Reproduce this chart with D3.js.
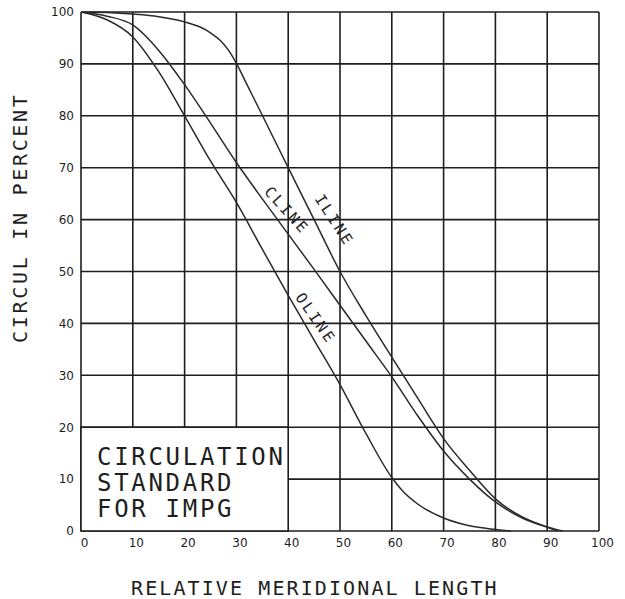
<!DOCTYPE html>
<html>
<head>
<meta charset="utf-8">
<script src="https://cdn.jsdelivr.net/npm/d3@7"></script>
<style>
  html, body { margin: 0; padding: 0; background: #fff; }
  svg { display: block; }
</style>
</head>
<body>
<svg id="chart" width="625" height="599"></svg>
<script>
// ---- data ----
const xTicks = [0, 10, 20, 30, 40, 50, 60, 70, 80, 90, 100];
const yTicks = [0, 10, 20, 30, 40, 50, 60, 70, 80, 90, 100];

const ilineX = [0, 5, 10, 15, 20, 23, 25, 27, 28.5, 30, 32, 35, 40, 45, 50, 55, 60, 65, 70, 75, 80, 85, 90, 93];
const ilineY = [100, 99.9, 99.6, 99.1, 98.1, 97.1, 96.0, 94.4, 92.6, 90.1, 86.1, 80.1, 70, 60, 50, 41.5, 33.5, 25.6, 17.8, 11.7, 6.2, 2.8, 0.8, 0];

const clineX = [0, 5, 10, 15, 20, 25, 30, 35, 40, 45, 50, 55, 60, 65, 70, 75, 80, 85, 90, 92];
const clineY = [100, 99.2, 97.5, 92.6, 86, 78.6, 71, 64, 57.2, 50.4, 43.5, 36.6, 29.7, 22.2, 15.4, 10, 5.6, 2.6, 0.7, 0];

const olineX = [0, 5, 10, 15, 20, 25, 30, 35, 40, 45, 50, 55, 60, 62, 65, 70, 75, 80, 83];
const olineY = [100, 98.5, 95.2, 88.5, 80, 71.3, 63.3, 54.3, 45.4, 36.8, 28.2, 18.8, 10.3, 7.8, 5.2, 2.5, 1.0, 0.3, 0];

const curveNames = ["ILINE", "CLINE", "OLINE"];
const labelX = [48.8, 39.6, 45.2];
const labelY = [60.1, 62.0, 41.2];
const labelAngle = [57, 48, 55];

const boxLines = ["CIRCULATION", "STANDARD", "FOR IMPG"];
const xTitle = "RELATIVE MERIDIONAL LENGTH";
const yTitle = "CIRCUL IN PERCENT";

// ---- drawing ----
const svg = d3.select("#chart");
const x = d3.scaleLinear().domain([0, 100]).range([81, 599]);
const y = d3.scaleLinear().domain([0, 100]).range([531, 12]);

const ink = "#1e1e1e";
const mono = "'DejaVu Sans Mono', monospace";

// grid
const grid = svg.append("g").attr("stroke", ink).attr("stroke-width", 1.6);
grid.selectAll("line.v").data(xTicks).join("line")
  .attr("x1", d => x(d)).attr("x2", d => x(d))
  .attr("y1", y(0)).attr("y2", y(100));
grid.selectAll("line.h").data(yTicks).join("line")
  .attr("x1", x(0)).attr("x2", x(100))
  .attr("y1", d => y(d)).attr("y2", d => y(d));

// curves
const series = [
  { xs: ilineX, ys: ilineY },
  { xs: clineX, ys: clineY },
  { xs: olineX, ys: olineY }
];
const line = d3.line()
  .x(d => x(d[0])).y(d => y(d[1]))
  .curve(d3.curveMonotoneX);
svg.append("g").selectAll("path").data(series).join("path")
  .attr("d", s => line(s.xs.map((v, i) => [v, s.ys[i]])))
  .attr("fill", "none")
  .attr("stroke", "#2a2a2a")
  .attr("stroke-width", 1.5);

// curve labels
svg.append("g").selectAll("text").data(curveNames).join("text")
  .attr("transform", (d, i) => `translate(${x(labelX[i])},${y(labelY[i])}) rotate(${labelAngle[i]})`)
  .attr("text-anchor", "middle")
  .attr("dy", "0.36em")
  .attr("dx", 1.3)
  .attr("font-family", mono)
  .attr("font-size", 15)
  .attr("letter-spacing", 2.6)
  .attr("fill", ink)
  .text(d => d);

// legend box
svg.append("rect")
  .attr("x", x(0)).attr("y", y(20))
  .attr("width", x(40) - x(0)).attr("height", y(0) - y(20))
  .attr("fill", "#fff").attr("stroke", ink).attr("stroke-width", 1.6);
svg.append("g").selectAll("text").data(boxLines).join("text")
  .attr("x", 97)
  .attr("y", (d, i) => 465 + i * 26)
  .attr("font-family", mono)
  .attr("font-size", 24)
  .attr("letter-spacing", 2.7)
  .attr("fill", ink)
  .text(d => d);

// axes (tick labels)
const xAxis = svg.append("g")
  .attr("transform", `translate(3,${y(0)})`)
  .call(d3.axisBottom(x).tickValues(xTicks).tickSize(0).tickPadding(16).tickFormat(d3.format("d")));
const yAxis = svg.append("g")
  .attr("transform", `translate(${x(0)},0)`)
  .call(d3.axisLeft(y).tickValues(yTicks).tickSize(0).tickPadding(7).tickFormat(d3.format("d")));
[xAxis, yAxis].forEach(a => {
  a.select(".domain").remove();
  a.selectAll("text")
    .attr("font-family", "'DejaVu Sans', sans-serif")
    .attr("font-size", 12)
    .attr("fill", ink);
});
xAxis.selectAll("text").attr("dy", "0");

// axis titles
svg.append("text")
  .attr("x", 131).attr("y", 595)
  .attr("font-family", mono)
  .attr("font-size", 20)
  .attr("letter-spacing", 2.1)
  .attr("fill", ink)
  .text(xTitle);
svg.append("text")
  .attr("transform", "translate(27,343) rotate(-90)")
  .attr("font-family", mono)
  .attr("font-size", 20)
  .attr("letter-spacing", 2.7)
  .attr("fill", ink)
  .text(yTitle);
</script>
</body>
</html>
